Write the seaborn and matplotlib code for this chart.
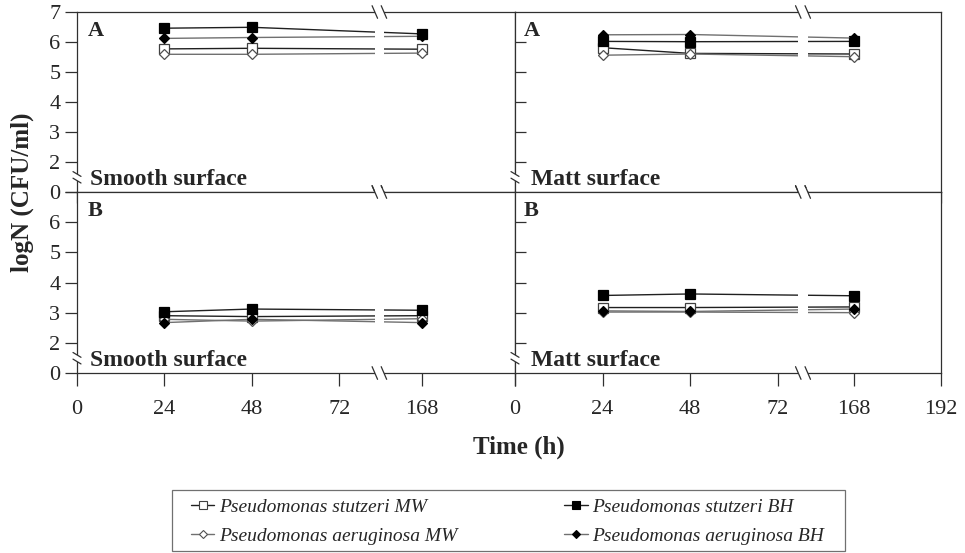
import numpy as np
import pandas as pd
import matplotlib
matplotlib.use("Agg")
import matplotlib.pyplot as plt
import matplotlib.transforms as mtrans
from matplotlib.patches import Rectangle
from matplotlib.lines import Line2D
import seaborn as sns

# ---------------- data ----------------
hours = [24, 48, 168]
series_names = ["Pseudomonas stutzeri MW", "Pseudomonas aeruginosa MW",
                "Pseudomonas stutzeri BH", "Pseudomonas aeruginosa BH"]

smooth_A_stutzeri_MW = [5.77, 5.79, 5.76]
smooth_A_aeruginosa_MW = [5.59, 5.59, 5.63]
smooth_A_stutzeri_BH = [6.46, 6.49, 6.27]
smooth_A_aeruginosa_BH = [6.12, 6.15, 6.19]

matt_A_stutzeri_MW = [5.81, 5.62, 5.60]
matt_A_aeruginosa_MW = [5.56, 5.60, 5.51]
matt_A_stutzeri_BH = [6.02, 6.01, 6.02]
matt_A_aeruginosa_BH = [6.24, 6.25, 6.13]

smooth_B_stutzeri_MW = [2.90, 2.87, 2.90]
smooth_B_aeruginosa_MW = [2.78, 2.72, 2.80]
smooth_B_stutzeri_BH = [3.03, 3.12, 3.08]
smooth_B_aeruginosa_BH = [2.67, 2.78, 2.67]

matt_B_stutzeri_MW = [3.17, 3.17, 3.19]
matt_B_aeruginosa_MW = [3.02, 3.02, 3.00]
matt_B_stutzeri_BH = [3.57, 3.62, 3.56]
matt_B_aeruginosa_BH = [3.06, 3.04, 3.12]

y_tick_labels = ["0", "2", "3", "4", "5", "6", "7"]
x_tick_labels_left = ["0", "24", "48", "72", "168", ""]
x_tick_labels_right = ["0", "24", "48", "72", "168", "192"]

# ---------------- style ----------------
sns.set_style("ticks")
plt.rcParams["font.family"] = ["Liberation Serif", "DejaVu Serif"]
plt.rcParams["axes.linewidth"] = 0.9

W, H = 965, 553
fig = plt.figure(figsize=(W / 100, H / 100), dpi=100)

EDGE = "#303030"
styles = {
    "Pseudomonas stutzeri MW": dict(marker="s", mfc="white", mec="#404040", color="#202020"),
    "Pseudomonas aeruginosa MW": dict(marker="D", mfc="white", mec="#505050", color="#707070"),
    "Pseudomonas stutzeri BH": dict(marker="s", mfc="black", mec="black", color="#202020"),
    "Pseudomonas aeruginosa BH": dict(marker="D", mfc="black", mec="black", color="#707070"),
}
msize = {"s": 7.0, "D": 5.5}


def add_ax(x0, y0, x1, y1):
    return fig.add_axes([x0 / W, 1 - y1 / H, (x1 - x0) / W, (y1 - y0) / H])


panels = [
    dict(box=(77, 12, 515, 192), vals=[smooth_A_stutzeri_MW, smooth_A_aeruginosa_MW,
                                       smooth_A_stutzeri_BH, smooth_A_aeruginosa_BH],
         letter="A", surf="Smooth surface", left=True, bottom=False,
         xmax=120.3, x168=94.8, brk=(81.8, 84.3)),
    dict(box=(515, 12, 941, 192), vals=[matt_A_stutzeri_MW, matt_A_aeruginosa_MW,
                                        matt_A_stutzeri_BH, matt_A_aeruginosa_BH],
         letter="A", surf="Matt surface", left=False, bottom=False,
         xmax=116.7, x168=92.9, brk=(77.6, 80.2)),
    dict(box=(77, 192, 515, 373), vals=[smooth_B_stutzeri_MW, smooth_B_aeruginosa_MW,
                                        smooth_B_stutzeri_BH, smooth_B_aeruginosa_BH],
         letter="B", surf="Smooth surface", left=True, bottom=True,
         xmax=120.3, x168=94.8, brk=(81.8, 84.3)),
    dict(box=(515, 192, 941, 373), vals=[matt_B_stutzeri_MW, matt_B_aeruginosa_MW,
                                         matt_B_stutzeri_BH, matt_B_aeruginosa_BH],
         letter="B", surf="Matt surface", left=False, bottom=True,
         xmax=116.7, x168=92.9, brk=(77.6, 80.2)),
]

for p in panels:
    ax = add_ax(*p["box"])
    xmap = {0: 0, 24: 24, 48: 48, 72: 72, 168: p["x168"]}
    for name, vals in zip(series_names, p["vals"]):
        st = styles[name]
        df = pd.DataFrame({"x": [xmap[h] for h in hours], "y": vals})
        sns.lineplot(data=df, x="x", y="y", ax=ax, color=st["color"], linewidth=1.0,
                     marker=st["marker"], markersize=msize[st["marker"]],
                     markerfacecolor=st["mfc"], markeredgecolor=st["mec"],
                     markeredgewidth=0.9, legend=False, zorder=3)
    ax.set_xlim(0, p["xmax"])
    ax.set_ylim(1, 7)
    ax.set_xlabel("")
    ax.set_ylabel("")
    for s in ax.spines.values():
        s.set_color(EDGE)
        s.set_linewidth(0.9)
        s.set_visible(True)

    # x ticks
    ax.set_xticks([0, 24, 48, 72, p["x168"], p["xmax"]])
    if p["bottom"]:
        ax.set_xticklabels(x_tick_labels_left if p["left"] else x_tick_labels_right,
                           fontsize=16)
        ax.tick_params(axis="x", direction="out", length=9, width=0.9, color=EDGE,
                       pad=10.5, labelbottom=True)
    else:
        ax.tick_params(axis="x", direction="out", length=8, width=0.9, color=EDGE,
                       labelbottom=False)

    # y ticks
    if p["left"]:
        ax.set_yticks([1, 2, 3, 4, 5, 6, 7])
        labels = list(y_tick_labels)
        if p["bottom"]:
            labels[-1] = ""
        ax.set_yticklabels(labels, fontsize=16)
        ax.tick_params(axis="y", direction="out", length=9, width=0.9, color=EDGE, pad=3)
    else:
        ax.set_yticks([2, 3, 4, 5, 6])
        ax.tick_params(axis="y", direction="in", length=8, width=0.9, color=EDGE,
                       labelleft=False)

    # x-axis break (white gap through lines and spines, with slashes)
    bt = mtrans.blended_transform_factory(ax.transData, ax.transAxes)
    b0, b1 = p["brk"]
    ax.add_patch(Rectangle((b0, -0.02), b1 - b0, 1.04, transform=bt, facecolor="white",
                           edgecolor="none", clip_on=False, zorder=6))
    dx = 0.75
    for yb in (0.0, 1.0):
        for xb in (b0, b1):
            ax.plot([xb - dx, xb + dx], [yb + 0.035, yb - 0.035], transform=bt,
                    color=EDGE, lw=0.9, clip_on=False, zorder=7)

    # y-axis break on the left spine
    bt2 = mtrans.blended_transform_factory(ax.transAxes, ax.transData)
    ax.add_patch(Rectangle((-0.01, 1.38), 0.02, 0.22, transform=bt2, facecolor="white",
                           edgecolor="none", clip_on=False, zorder=6))
    fx = 4.0 / (p["box"][2] - p["box"][0])
    for yb in (1.38, 1.60):
        ax.plot([-fx, fx], [yb + 0.08, yb - 0.08], transform=bt2, color=EDGE, lw=0.9,
                clip_on=False, zorder=7)

    # panel texts
    wpx = p["box"][2] - p["box"][0]
    hpx = p["box"][3] - p["box"][1]
    ax.text(11 / wpx if p["left"] else 9 / wpx, 1 - 9 / hpx, p["letter"],
            transform=ax.transAxes, fontsize=16, fontweight="bold", va="top", ha="left",
            zorder=8)
    ax.text(13 / wpx if p["left"] else 16 / wpx, 7 / hpx, p["surf"],
            transform=ax.transAxes, fontsize=17, fontweight="bold", va="baseline",
            ha="left", zorder=8)

# axis titles
fig.text(22 / W, 1 - 192 / H, "logN (CFU/ml)", rotation=90, fontsize=18,
         fontweight="bold", ha="center", va="center")
fig.text(519 / W, 1 - 447 / H, "Time (h)", fontsize=18, fontweight="bold",
         ha="center", va="center")

# legend (frame drawn separately to match the wide reference box)
handles = []
for name in series_names:
    st = styles[name]
    handles.append(Line2D([], [], color=st["color"], lw=1.0, marker=st["marker"],
                          markersize=msize[st["marker"]] * 0.75, markerfacecolor=st["mfc"],
                          markeredgecolor=st["mec"], markeredgewidth=0.8))
leg = fig.legend(handles, series_names, ncol=2, loc="upper left",
                 bbox_to_anchor=(187 / W, 1 - 494.5 / H),
                 frameon=False,
                 handlelength=1.2, handletextpad=0.25, borderpad=0.2, labelspacing=0.6,
                 columnspacing=5.5, borderaxespad=0.0,
                 prop={"family": "Liberation Serif", "style": "italic", "size": 14})
fig.patches.append(Rectangle((172 / W, 1 - 551 / H), (845 - 172) / W, 61 / H,
                             transform=fig.transFigure, facecolor="none",
                             edgecolor="#707070", linewidth=0.9))

fig.savefig("out.png", dpi=100, facecolor="white")
